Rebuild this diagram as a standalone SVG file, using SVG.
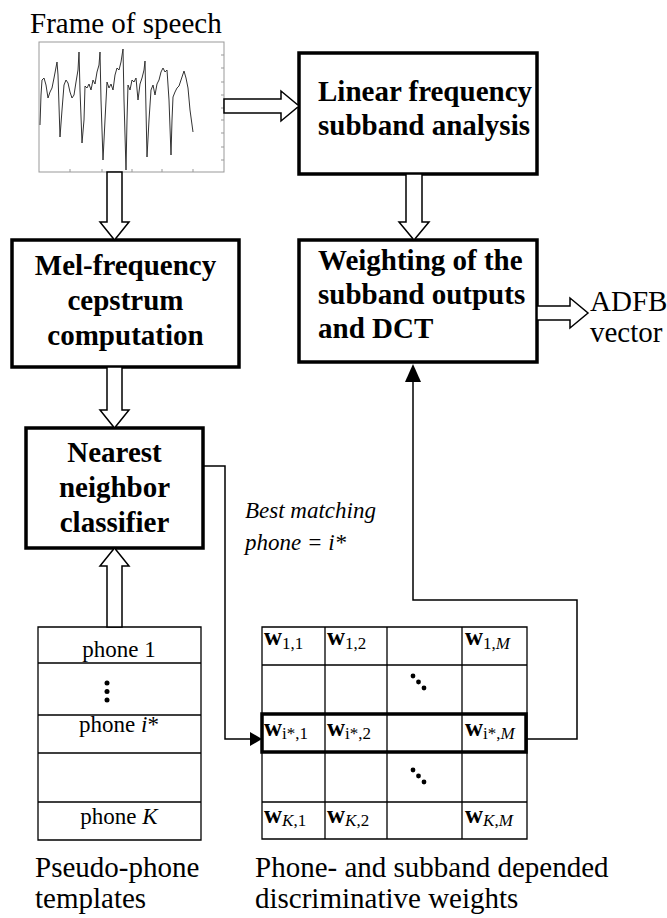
<svg xmlns="http://www.w3.org/2000/svg" width="667" height="918" viewBox="0 0 667 918">
<style>
.t{font-family:"Liberation Serif","Times New Roman",serif;fill:#000}
.b{font-weight:bold;font-size:29px}
.r{font-size:29px}
.s{font-size:23px}
.box{fill:#fff;stroke:#000;stroke-width:3.5}
.hol{fill:#fff;stroke:#000;stroke-width:1.5;stroke-linejoin:miter}
.ln{fill:none;stroke:#000;stroke-width:1.5}
.cell{fill:none;stroke:#000;stroke-width:1.3}
.w{font-weight:bold;font-size:25px}
.sub{font-size:17px}
.i{font-style:italic}
</style>
<rect width="667" height="918" fill="#fff"/>

<g id="frame">
<text class="t r" x="30" y="33">Frame of speech</text>
<rect x="39" y="42" width="185" height="130" fill="#fff" stroke="#999" stroke-width="1"/>
<path d="M224,55h-3M224,68h-3M224,82h-3M224,95h-3M224,108h-3M224,120h-3M224,133h-3M224,147h-3M224,160h-3M70,172v-3M102,172v-3M132,172v-3M162,172v-3M193,172v-3" stroke="#999" stroke-width="1"/>
<polyline fill="none" stroke="#333" stroke-width="1" points="40,125 41,95 42,80 44,78 46,85 48,98 50,92 52,88 54,78 57,62 58,75 60,137 62,110 64,85 66,80 68,83 70,92 72,98 74,95 76,82 78,70 79,52 80,90 82,143 84,120 85,86 87,88 89,84 91,90 93,80 95,84 97,72 99,65 100,52 101,100 103,160 105,120 107,82 109,88 111,84 113,90 115,75 117,68 119,70 121,62 123,49 124,100 126,170 127,120 128,85 130,90 132,80 134,82 136,78 138,100 140,84 142,78 144,70 145,61 146,110 147,157 149,120 151,90 153,85 155,95 157,84 159,80 161,72 163,68 165,72 167,70 169,100 171,155 172,120 173,97 175,92 177,88 179,86 181,80 183,74 184,71 186,78 188,88 190,110 193,132"/>
</g>

<g id="linear">
<rect class="box" x="299" y="53" width="238" height="121"/>
<text class="t b" x="318" y="101">Linear frequency</text>
<text class="t b" x="318" y="135">subband analysis</text>
</g>

<g id="weighting">
<rect class="box" x="299" y="240" width="238" height="122"/>
<text class="t b" x="318" y="270">Weighting of the</text>
<text class="t b" x="318" y="304">subband outputs</text>
<text class="t b" x="318" y="338">and DCT</text>
</g>

<g id="adfb">
<text class="t r" x="590" y="311">ADFB</text>
<text class="t r" x="590" y="342">vector</text>
</g>

<g id="mel">
<rect class="box" x="12" y="240" width="227" height="127"/>
<text class="t b" x="125.5" y="275" text-anchor="middle">Mel-frequency</text>
<text class="t b" x="125.5" y="310" text-anchor="middle">cepstrum</text>
<text class="t b" x="125.5" y="345" text-anchor="middle">computation</text>
</g>

<g id="nearest">
<rect class="box" x="26" y="428" width="177" height="120"/>
<text class="t b" x="114.5" y="462" text-anchor="middle">Nearest</text>
<text class="t b" x="114.5" y="497" text-anchor="middle">neighbor</text>
<text class="t b" x="114.5" y="532" text-anchor="middle">classifier</text>
</g>

<g id="best-label">
<text class="t s i" x="245" y="518">Best matching</text>
<text class="t s i" x="245" y="550">phone = i*</text>
</g>

<g id="templates">
<path class="cell" d="M38,627H201V840H38ZM38,663H201M38,715H201M38,753H201M38,802H201"/>
<text class="t s" x="119" y="657" text-anchor="middle">phone 1</text>
<circle cx="107" cy="683" r="2.5"/>
<circle cx="107" cy="691.5" r="2.5"/>
<circle cx="107" cy="700" r="2.5"/>
<text class="t s" x="119" y="732" text-anchor="middle">phone <tspan class="i">i</tspan>*</text>
<text class="t s" x="119" y="824" text-anchor="middle">phone <tspan class="i">K</tspan></text>
<text class="t r" x="35" y="877">Pseudo-phone</text>
<text class="t r" x="35" y="908">templates</text>
</g>

<g id="weights">
<path class="cell" d="M262,627H527V839H262ZM262,665H527M262,714H527M262,752H527M262,802H527M325,627V839M387,627V839M462,627V839"/>
<rect x="262" y="714" width="264" height="38" fill="none" stroke="#000" stroke-width="3.5"/>
<text class="t" x="264" y="645"><tspan class="w">w</tspan><tspan class="sub" dy="4">1,1</tspan></text>
<text class="t" x="327" y="645"><tspan class="w">w</tspan><tspan class="sub" dy="4">1,2</tspan></text>
<text class="t" x="465" y="645"><tspan class="w">w</tspan><tspan class="sub" dy="4">1,<tspan class="i">M</tspan></tspan></text>
<text class="t" x="264" y="736"><tspan class="w">w</tspan><tspan class="sub" dy="3">i*,1</tspan></text>
<text class="t" x="327" y="736"><tspan class="w">w</tspan><tspan class="sub" dy="3">i*,2</tspan></text>
<text class="t" x="465" y="736"><tspan class="w">w</tspan><tspan class="sub" dy="3">i*,<tspan class="i">M</tspan></tspan></text>
<text class="t" x="264" y="823"><tspan class="w">w</tspan><tspan class="sub" dy="3"><tspan class="i">K</tspan>,1</tspan></text>
<text class="t" x="327" y="823"><tspan class="w">w</tspan><tspan class="sub" dy="3"><tspan class="i">K</tspan>,2</tspan></text>
<text class="t" x="465" y="823"><tspan class="w">w</tspan><tspan class="sub" dy="3"><tspan class="i">K</tspan>,<tspan class="i">M</tspan></tspan></text>
<circle cx="413" cy="676" r="2.4"/><circle cx="418.5" cy="682" r="2.4"/><circle cx="424" cy="688" r="2.4"/>
<circle cx="413" cy="770" r="2.4"/><circle cx="418.5" cy="776" r="2.4"/><circle cx="424" cy="782" r="2.4"/>
<text class="t r" x="255" y="877">Phone- and subband depended</text>
<text class="t r" x="255" y="908">discriminative weights</text>
</g>

<g id="connectors">
<path class="hol" d="M224,99H281V91L299,106L281,121V113H224Z"/>
<path class="hol" d="M107,172V222H100L114.5,240L129,222H122V172Z"/>
<path class="hol" d="M107,367V410H100L114.5,428L129,410H122V367Z"/>
<path class="hol" d="M107,627V566H100L114.5,548L129,566H122V627Z"/>
<path class="hol" d="M406,174V222H399L414,240L429,222H422V174Z"/>
<path class="hol" d="M537,306H570V298L588,313L570,328V320H537Z"/>
<path class="ln" d="M203,466H225V739H251"/>
<polygon points="250,732 262,739 250,746"/>
<path class="ln" d="M526,739H577V600H413V380"/>
<polygon points="405,382 413,364 421,382"/>
</g>
</svg>
